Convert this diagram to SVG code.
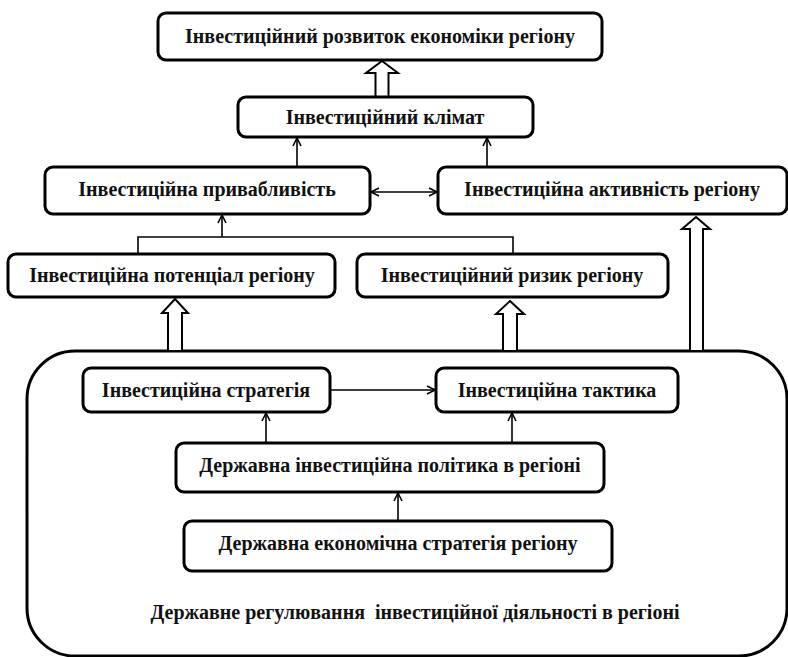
<svg xmlns="http://www.w3.org/2000/svg" width="788" height="657" viewBox="0 0 788 657">
<defs>
<style>
.box{fill:#fff;stroke:#000;stroke-width:3}
.big{fill:none;stroke:#000;stroke-width:3}
.t{font-family:"Liberation Serif","Times New Roman",serif;font-weight:bold;font-size:20px;fill:#111;text-anchor:middle;dominant-baseline:central}
.c{fill:none;stroke:#000;stroke-width:1.6}
.h{fill:#fff;stroke:#000;stroke-width:2;stroke-linejoin:miter}
</style>
<marker id="ah" viewBox="0 0 10 10" refX="9" refY="5" markerWidth="10" markerHeight="10" markerUnits="userSpaceOnUse" orient="auto-start-reverse">
<path d="M1,1 L9,5 L1,9" fill="none" stroke="#000" stroke-width="1.6"/>
</marker>
</defs>
<rect width="788" height="657" fill="#fff"/>
<g id="regulation">
<rect class="big" x="27" y="351" width="760" height="305" rx="48" ry="48"/>
<text class="t" x="415" y="612" xml:space="preserve">Державне регулювання  інвестиційної діяльності в регіоні</text>
</g>
<g id="connectors">
<path class="c" d="M297,167 V138" marker-end="url(#ah)"/>
<path class="c" d="M487,167 V138" marker-end="url(#ah)"/>
<path class="c" d="M371,192 H437" marker-start="url(#ah)" marker-end="url(#ah)"/>
<path class="c" d="M138,254 V237 H513 V254"/>
<path class="c" d="M222,237 V215" marker-end="url(#ah)"/>
<path class="c" d="M331,390 H435" marker-end="url(#ah)"/>
<path class="c" d="M266,443 V413" marker-end="url(#ah)"/>
<path class="c" d="M512,443 V413" marker-end="url(#ah)"/>
<path class="c" d="M398,521 V493" marker-end="url(#ah)"/>
<path class="h" d="M382,61 L398,73 L388.5,73 L388.5,97 L375.5,97 L375.5,73 L366,73 Z"/>
<path class="h" d="M175,299 L188,313 L182,313 L182,351 L168,351 L168,313 L162,313 Z"/>
<path class="h" d="M510,301 L524,314 L517,314 L517,351 L503,351 L503,314 L496,314 Z"/>
<path class="h" d="M696,217 L710,229 L703,229 L703,351 L690,351 L690,229 L682,229 Z"/>
</g>
<g id="n-top">
<rect class="box" x="158" y="13" width="444" height="47" rx="8"/>
<text class="t" x="380" y="36">Інвестиційний розвиток економіки регіону</text>
</g>
<g id="n-climate">
<rect class="box" x="238" y="97" width="295" height="40" rx="8"/>
<text class="t" x="385" y="117">Інвестиційний клімат</text>
</g>
<g id="n-attract">
<rect class="box" x="45" y="167" width="325" height="47" rx="8"/>
<text class="t" x="207" y="189">Інвестиційна привабливість</text>
</g>
<g id="n-activity">
<rect class="box" x="438" y="167" width="349" height="47" rx="8"/>
<text class="t" x="612" y="189">Інвестиційна активність регіону</text>
</g>
<g id="n-potential">
<rect class="box" x="8" y="254" width="327" height="43" rx="8"/>
<text class="t" x="172" y="275">Інвестиційна потенціал регіону</text>
</g>
<g id="n-risk">
<rect class="box" x="357" y="254" width="311" height="43" rx="8"/>
<text class="t" x="512" y="275">Інвестиційний ризик регіону</text>
</g>
<g id="n-strategy">
<rect class="box" x="83" y="368" width="247" height="44" rx="8"/>
<text class="t" x="206" y="390">Інвестиційна стратегія</text>
</g>
<g id="n-tactics">
<rect class="box" x="436" y="368" width="242" height="44" rx="8"/>
<text class="t" x="557" y="390">Інвестиційна тактика</text>
</g>
<g id="n-policy">
<rect class="box" x="176" y="443" width="428" height="49" rx="8"/>
<text class="t" x="390" y="465">Державна інвестиційна політика в регіоні</text>
</g>
<g id="n-econ">
<rect class="box" x="184" y="521" width="428" height="50" rx="8"/>
<text class="t" x="398" y="543">Державна економічна стратегія регіону</text>
</g>
</svg>
